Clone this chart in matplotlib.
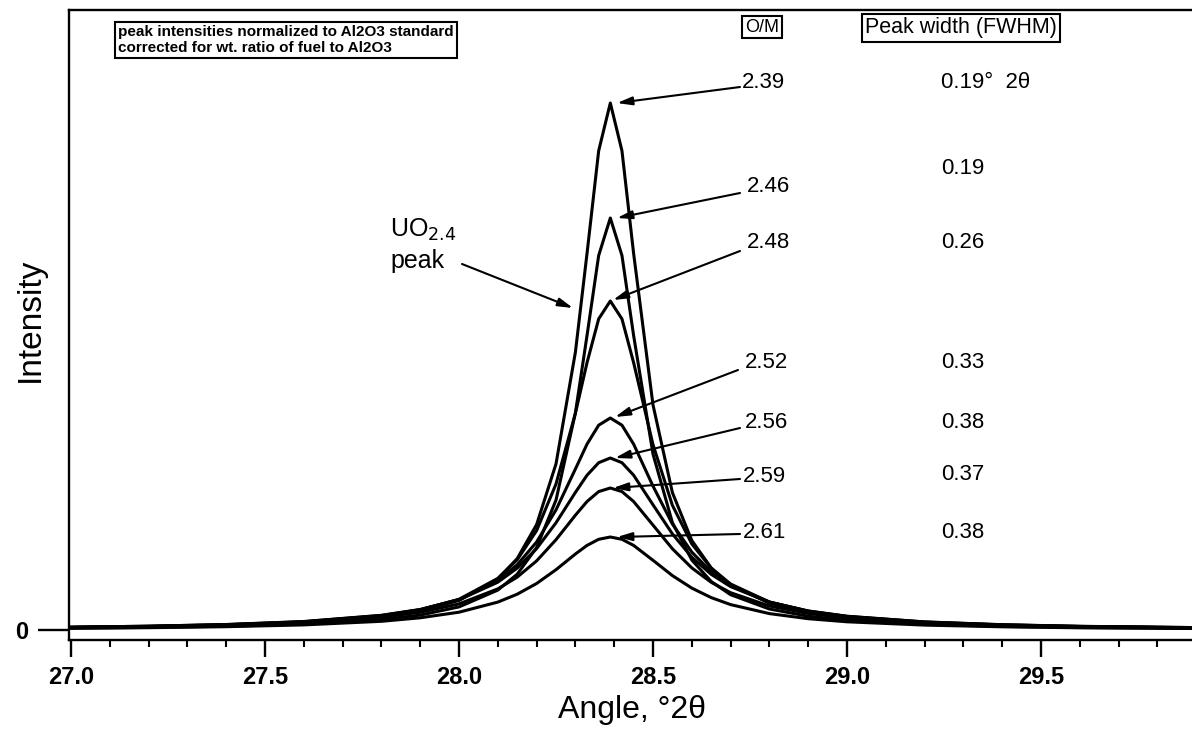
import matplotlib
matplotlib.use("Agg")
import matplotlib.pyplot as plt
from matplotlib.ticker import MultipleLocator, FixedLocator, FormatStrFormatter

plt.rcParams['font.family'] = ['Liberation Sans', 'DejaVu Sans']

# ---------------- data ----------------
angle = [27.00, 27.20, 27.40, 27.60, 27.80, 27.90, 28.00, 28.10, 28.15, 28.20,
         28.25, 28.30, 28.33, 28.36, 28.39, 28.42, 28.45, 28.50, 28.55, 28.60,
         28.65, 28.70, 28.80, 28.90, 29.00, 29.20, 29.40, 29.60, 29.90]

om_239 = [2.5, 3.3, 4.8, 7.5, 13.3, 19.1, 29.5, 51.1, 71.4, 105.4,
          166.1, 277.8, 376.7, 479.2, 527.0, 479.2, 376.7, 225.1, 137.4, 89.5,
          62.1, 45.2, 26.8, 17.7, 12.5, 7.2, 4.6, 3.2, 2.1]
om_246 = [1.9, 2.6, 3.8, 5.9, 10.4, 14.9, 23.1, 39.9, 55.8, 82.4,
          129.9, 217.1, 294.6, 374.5, 412.0, 374.5, 294.6, 175.9, 107.4, 70.0,
          48.5, 35.3, 21.0, 13.8, 9.8, 5.6, 3.6, 2.5, 1.6]
om_248 = [2.6, 3.6, 5.2, 8.0, 14.1, 20.1, 30.7, 51.6, 70.2, 99.4,
          146.0, 216.7, 267.4, 311.1, 329.0, 311.1, 267.4, 185.4, 124.7, 86.1,
          61.8, 46.0, 28.0, 18.6, 13.3, 7.7, 5.0, 3.5, 2.2]
om_252 = [2.8, 3.8, 5.4, 8.3, 14.5, 20.4, 30.5, 49.5, 65.2, 88.0,
          120.1, 161.0, 185.9, 204.8, 212.0, 204.8, 185.9, 143.9, 106.0, 77.9,
          58.2, 44.6, 28.0, 19.0, 13.6, 8.0, 5.2, 3.6, 2.4]
om_256 = [2.8, 3.8, 5.5, 8.5, 14.7, 20.5, 30.2, 47.8, 61.9, 81.4,
          107.2, 137.6, 154.8, 167.3, 172.0, 167.3, 154.8, 125.2, 96.1, 72.8,
          55.7, 43.4, 27.8, 19.0, 13.8, 8.1, 5.3, 3.7, 2.4]
om_259 = [2.5, 3.4, 4.8, 7.4, 12.7, 17.7, 26.1, 41.1, 52.9, 69.1,
          90.3, 114.8, 128.5, 138.4, 142.0, 138.4, 128.5, 104.9, 81.2, 62.1,
          47.7, 37.3, 24.0, 16.5, 12.0, 7.0, 4.6, 3.2, 2.1]
om_261 = [1.7, 2.3, 3.3, 5.1, 8.7, 12.2, 17.8, 27.9, 35.8, 46.5,
          60.3, 76.0, 84.6, 90.7, 93.0, 90.7, 84.6, 69.7, 54.4, 41.9,
          32.4, 25.4, 16.4, 11.3, 8.2, 4.9, 3.2, 2.2, 1.5]

series = [om_239, om_246, om_248, om_252, om_256, om_259, om_261]
om_labels = ["2.39", "2.46", "2.48", "2.52", "2.56", "2.59", "2.61"]
fwhm_labels = ["0.19°  2θ", "0.19", "0.26", "0.33", "0.38", "0.37", "0.38"]
x_ticks = [27.0, 27.5, 28.0, 28.5, 29.0, 29.5]

# ---------------- layout ----------------
W, H = 1192, 734
fig = plt.figure(figsize=(W / 100, H / 100), dpi=100)
ax_l, ax_r, ax_t, ax_b = 69, 1192, 10, 640
ax = fig.add_axes([ax_l / W, 1 - ax_b / H, (ax_r - ax_l) / W, (ax_b - ax_t) / H])

x0_px, x1_px = 459.0, 388.0  # 28.0 deg at 459 px; 388 px per degree
zero_px = 630.0


def px2data(x, y):
    return 28.0 + (x - x0_px) / x1_px, zero_px - y


ax.set_xlim(px2data(ax_l, 0)[0], px2data(ax_r, 0)[0])
ax.set_ylim(zero_px - ax_b, zero_px - ax_t)

for s in series:
    ax.plot(angle, s, color='black', lw=2.2, solid_joinstyle='round')

# spines / ticks
ax.spines['right'].set_visible(False)
for sp in ('left', 'bottom', 'top'):
    ax.spines[sp].set_linewidth(1.7)
ax.xaxis.set_major_locator(FixedLocator(x_ticks))
ax.xaxis.set_major_formatter(FormatStrFormatter('%.1f'))
ax.xaxis.set_minor_locator(MultipleLocator(0.1))
ax.tick_params(axis='x', which='major', direction='out', length=12, width=1.7,
               labelsize=17, pad=7)
ax.tick_params(axis='x', which='minor', direction='out', length=5, width=1.5)
for lab in ax.get_xticklabels():
    lab.set_fontweight('bold')
ax.set_yticks([0])
ax.set_yticklabels(['0'], fontweight='bold', fontsize=17)
ax.tick_params(axis='y', direction='out', length=22, width=1.7, pad=7)
ax.tick_params(top=False)

fig.text(632 / W, 1 - 710 / H, 'Angle, °2θ', fontsize=23, ha='center', va='center')
fig.text(30 / W, 1 - 320 / H, 'Intensity', fontsize=24, rotation=90,
         ha='center', va='center')

# annotations: O/M labels with arrows to each peak
text_px = [(742, 82), (747, 187), (747, 242), (745, 363), (745, 423), (743, 477), (743, 532)]
tail_px = [(740, 87), (740, 193), (740, 251), (738, 370), (740, 428), (740, 479), (740, 534)]
head_px = [(617, 103), (617, 218), (613, 300), (615, 417), (615, 458), (613, 488), (617, 537)]
fwhm_px = [(941, 82), (941, 168), (941, 243), (941, 362), (941, 422), (941, 475), (941, 532)]

arrow_kw = dict(arrowstyle='-|>,head_length=0.9,head_width=0.25', color='black',
                lw=1.5, shrinkA=0, shrinkB=0)
for lab, tp, tl, hd in zip(om_labels, text_px, tail_px, head_px):
    ax.text(*px2data(*tp), lab, fontsize=16, ha='left', va='center')
    ax.annotate('', xy=px2data(*hd), xytext=px2data(*tl), arrowprops=arrow_kw)
for lab, fp in zip(fwhm_labels, fwhm_px):
    ax.text(*px2data(*fp), lab, fontsize=16, ha='left', va='center')

# UO2.4 peak label
ax.text(*px2data(390, 230), 'UO$_{2.4}$', fontsize=18, ha='left', va='center')
ax.text(*px2data(390, 261), 'peak', fontsize=18, ha='left', va='center')
ax.annotate('', xy=px2data(573, 308), xytext=px2data(462, 264), arrowprops=arrow_kw)

# header boxes
box_kw = dict(boxstyle='square,pad=0.15', fc='white', ec='black', lw=1.5)
ax.text(*px2data(762, 27), 'O/M', fontsize=13, ha='center', va='center', bbox=box_kw)
ax.text(*px2data(961, 28), 'Peak width (FWHM)', fontsize=15.5, ha='center', va='center',
        bbox=box_kw)
ax.text(*px2data(118, 40),
        'peak intensities normalized to Al2O3 standard\ncorrected for wt. ratio of fuel to Al2O3',
        fontsize=11, fontweight='bold', ha='left', va='center', linespacing=1.2,
        bbox=dict(boxstyle='square,pad=0.2', fc='white', ec='black', lw=1.5))

fig.savefig('out.png', dpi=100)
